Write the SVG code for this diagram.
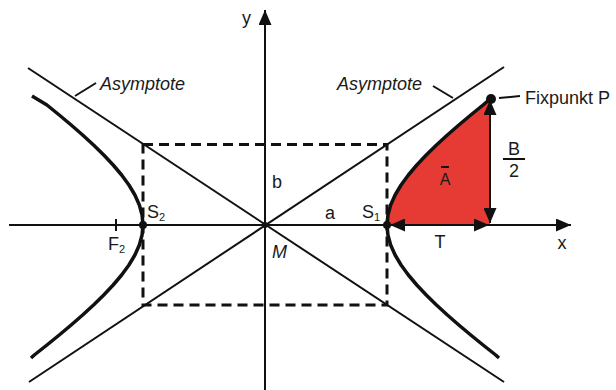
<svg xmlns="http://www.w3.org/2000/svg" width="616" height="390" viewBox="0 0 616 390">
<style>
.t{font-family:"Liberation Sans",Arial,sans-serif;font-size:18px;fill:#1a1a1a}
.i{font-style:italic;font-size:18px}
.sub{font-size:11px}
.ln{stroke:#111;stroke-width:2;fill:none}
.hyp{stroke:#111;stroke-width:3.5;fill:none;stroke-linejoin:round;stroke-linecap:butt}
.dash{stroke:#111;stroke-width:3;fill:none;stroke-dasharray:10 6}
.dot{fill:#111}
</style>
<defs>
<marker id="ah" markerUnits="userSpaceOnUse" markerWidth="15" markerHeight="13" viewBox="0 0 15 13" refX="15" refY="6.5" orient="auto-start-reverse">
<path d="M0,0 L15,6.5 L0,13 z" fill="#111"/>
</marker>
</defs>
<g id="area">
<path d="M387,225 L387.93,215 L390.66,205 L395.10,195 L401.07,185 L408.37,175 L416.83,165 L426.24,155 L436.47,145 L447.37,135 L458.83,125 L470.75,115 L483.06,105 L490,99 L490,225 Z" fill="#e63a35"/>
</g>
<g id="connectors">
<line class="ln" x1="9" y1="225" x2="571" y2="225" marker-end="url(#ah)"/>
<line class="ln" x1="265" y1="390" x2="265" y2="10" marker-end="url(#ah)"/>
<line class="ln" x1="28" y1="68" x2="504" y2="382"/>
<line class="ln" x1="29" y1="382" x2="504" y2="67"/>
<rect class="dash" x="143" y="144.5" width="244" height="160.5"/>
<line class="ln" x1="116" y1="219" x2="116" y2="231"/>
<line class="ln" x1="75" y1="96" x2="96" y2="83"/>
<line class="ln" x1="433" y1="86" x2="453" y2="98"/>
<line class="ln" x1="499" y1="98" x2="520" y2="96"/>
<line class="ln" x1="490" y1="100" x2="490" y2="223" stroke-width="2.5" marker-start="url(#ah)" marker-end="url(#ah)"/>
<line class="ln" x1="390" y1="225" x2="489" y2="225" stroke-width="2.5" marker-start="url(#ah)" marker-end="url(#ah)"/>
</g>
<g id="hyperbola">
<path class="hyp" d="M490,99 L483.06,105 L470.75,115 L458.83,125 L447.37,135 L436.47,145 L426.24,155 L416.83,165 L408.37,175 L401.07,185 L395.10,195 L390.66,205 L387.93,215 L387,225 L387.93,235 L390.66,245 L395.10,255 L401.07,265 L408.37,275 L416.83,285 L426.24,295 L436.47,305 L447.37,315 L458.83,325 L470.75,335 L483.06,345 L495.70,355 L499,358"/>
<path class="hyp" d="M32,96 L46.94,105 L59.25,115 L71.17,125 L82.63,135 L93.53,145 L103.76,155 L113.17,165 L121.63,175 L128.93,185 L134.90,195 L139.34,205 L142.07,215 L143,225 L142.07,235 L139.34,245 L134.90,255 L128.93,265 L121.63,275 L113.17,285 L103.76,295 L93.53,305 L82.63,315 L71.17,325 L59.25,335 L46.94,345 L34.3,355 L31,358"/>
</g>
<g id="points">
<circle class="dot" cx="387" cy="225" r="4"/>
<circle class="dot" cx="143" cy="225" r="4"/>
<circle class="dot" cx="265" cy="225" r="3"/>
<circle class="dot" cx="491" cy="99" r="5"/>
</g>
<g id="labels">
<text class="t" x="242" y="24">y</text>
<text class="t" x="562" y="249" text-anchor="middle">x</text>
<text class="t i" x="100" y="90">Asymptote</text>
<text class="t i" x="337" y="90">Asymptote</text>
<text class="t" x="525" y="104">Fixpunkt P</text>
<text class="t" x="514" y="155" text-anchor="middle">B</text>
<line class="ln" x1="503" y1="159" x2="525" y2="159"/>
<text class="t" x="514" y="177" text-anchor="middle">2</text>
<text class="t" x="445" y="185" text-anchor="middle" style="font-size:16px">A</text>
<line class="ln" x1="441" y1="167" x2="449" y2="167" stroke-width="2"/>
<text class="t" x="272" y="188">b</text>
<text class="t" x="325" y="219">a</text>
<text class="t" x="362" y="218">S<tspan class="sub" dy="3">1</tspan></text>
<text class="t" x="147" y="218">S<tspan class="sub" dy="3">2</tspan></text>
<text class="t" x="108" y="250">F<tspan class="sub" dy="3">2</tspan></text>
<text class="t" x="272" y="258" style="font-style:italic">M</text>
<text class="t" x="440" y="248" text-anchor="middle">T</text>
</g>
</svg>
